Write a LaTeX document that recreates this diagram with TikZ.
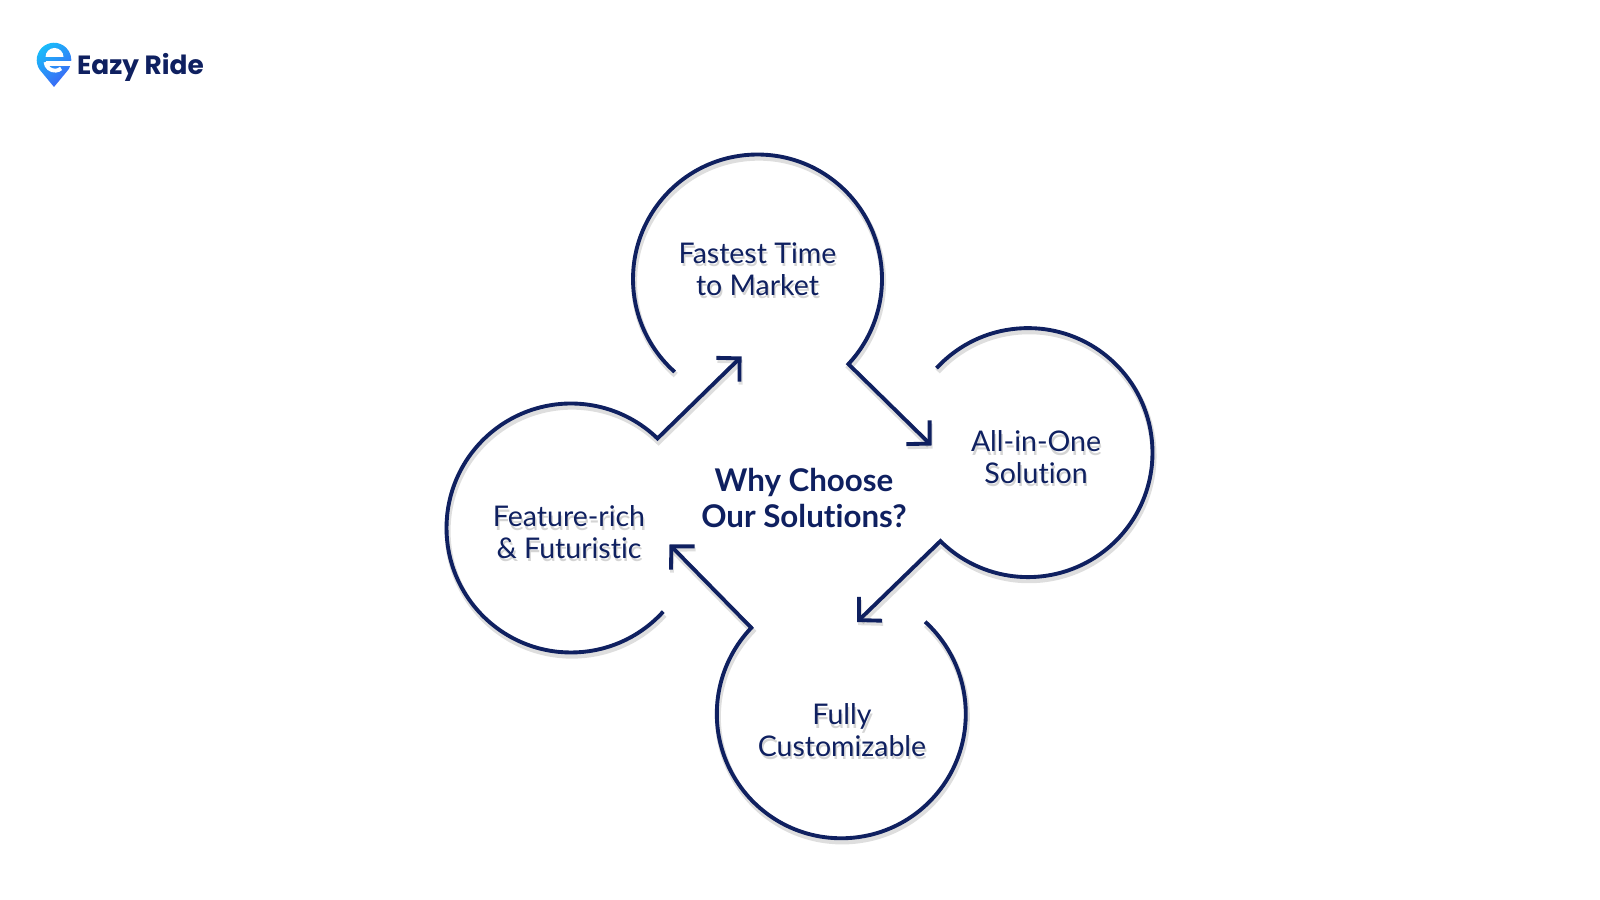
\documentclass[tikz,border=0pt]{standalone}
\usepackage{fontspec}
\setmainfont{Lato}[Ligatures=NoCommon]
\newfontfamily\logofont{Poppins}
\usetikzlibrary{arrows.meta}
\definecolor{navy}{RGB}{15,32,96}
\definecolor{pinCyan}{RGB}{25,190,250}
\definecolor{pinBlue}{RGB}{60,100,245}
\tikzset{
	ringLine/.style={draw=navy,line width=1.1pt,-{Straight Barb[length=4.6pt,width=9.4pt,line width=1.1pt]},
		preaction={draw=black,draw opacity=.13,line width=1.7pt,transform canvas={xshift=.3pt,yshift=-.9pt}}},
	ringText/.style={align=center,text=navy,font=\fontsize{8.1}{9}\selectfont,inner sep=0},
	ringShadow/.style={ringText,text=black,text opacity=.17,xshift=.4pt,yshift=-1pt},
	hubText/.style={align=center,text=navy,font=\fontsize{8.9}{10}\selectfont\bfseries,inner sep=0}
}
\begin{document}
\begin{tikzpicture}[x=0.01cm,y=0.01cm]
		\useasboundingbox (0,0) rectangle (1600,900);
		% circle centres
		\coordinate (top) at (757.5,621);
		\coordinate (right) at (1028,447.4);
		\coordinate (bottom) at (841.3,186.2);
		\coordinate (left) at (571,372);
		% open ends of the circles
		\coordinate (top-a) at ([shift={(228.3:124.5)}]top);
		\coordinate (right-a) at ([shift={(137.3:124.5)}]right);
		\coordinate (bottom-a) at ([shift={(47.7:124.5)}]bottom);
		\coordinate (left-a) at ([shift={(-42.2:124.5)}]left);
		% arrow tips
		\coordinate (top-tip) at (931.5,454.5);
		\coordinate (right-tip) at (857,278);
		\coordinate (bottom-tip) at (669.5,355.5);
		\coordinate (left-tip) at (741.5,543.5);
		
		\draw[ringLine] (top-a) arc[start angle=228.3,end angle=-43.1,radius=124.5] -- (top-tip);
		\draw[ringLine] (right-a) arc[start angle=137.3,end angle=-134.7,radius=124.5] -- (right-tip);
		\draw[ringLine] (bottom-a) arc[start angle=47.7,end angle=-223.7,radius=124.5] -- (bottom-tip);
		\draw[ringLine] (left-a) arc[start angle=-42.2,end angle=-314,radius=124.5] -- (left-tip);
		
		% labels, each on its soft shadow
		\node[ringShadow] (fast-s) at (757.5,631) {Fastest Time\\to Market};
		\node[ringText] (fast) at (757.5,631) {Fastest Time\\to Market};
		\node[ringShadow] (all-s) at (1036,443) {All-in-One\\Solution};
		\node[ringText] (all) at (1036,443) {All-in-One\\Solution};
		\node[ringShadow] (custom-s) at (842,170) {Fully\\Customizable};
		\node[ringText] (custom) at (842,170) {Fully\\Customizable};
		\node[ringShadow] (feature-s) at (569,368) {Feature-rich\\\& Futuristic};
		\node[ringText] (feature) at (569,368) {Feature-rich\\\& Futuristic};
		\node[hubText] (hub) at (804,402) {Why Choose\\Our Solutions?};
		
		% logo
		\coordinate (pin) at (54.5,839.5);
		\shade[top color=pinCyan,bottom color=pinBlue,shading angle=40] (54,813) -- (42,827.5) arc[start angle=226,end angle=-46,radius=17.3] -- cycle;
		\fill[white] (45.5,843) arc[start angle=180,end angle=0,radius=9] -- cycle;
		\draw[white,line width=1.1pt] (45.5,838) arc[start angle=185,end angle=310,radius=9.5];
		\fill[white] (45.5,838.8) rectangle (73,834);
		\node[anchor=west,inner sep=0,text=navy,font=\logofont\fontsize{7.5}{9}\selectfont\bfseries] (logo) at (76.5,832.5) {Eazy Ride};
\end{tikzpicture}
\end{document}
